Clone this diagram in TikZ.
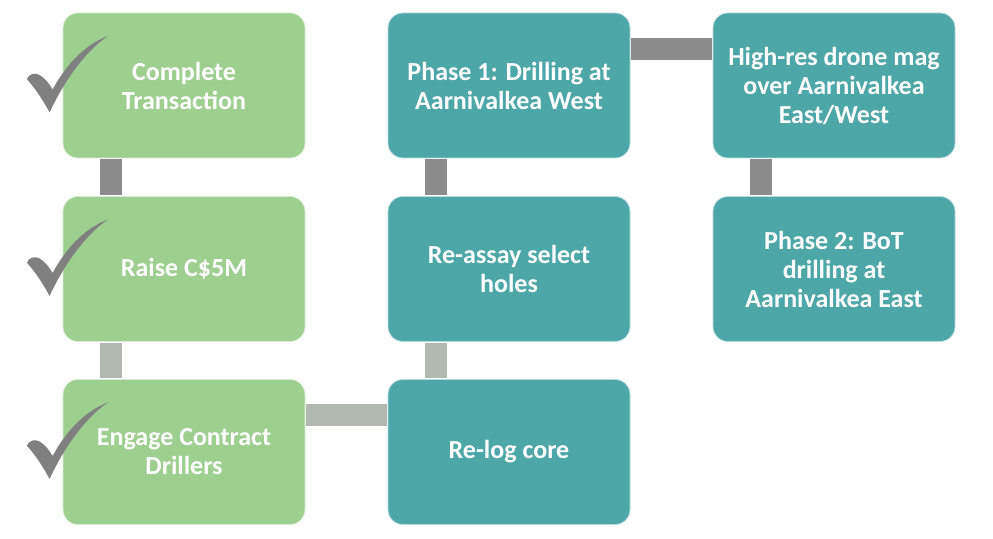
\documentclass[tikz,border=0pt]{standalone}
\usepackage{fontspec}
\setmainfont{Carlito}
\definecolor{vert}{HTML}{9DD08F}
\definecolor{sarcelle}{HTML}{4DA6A8}
\definecolor{barfonce}{HTML}{8C8C8C}
\definecolor{barclair}{HTML}{B0B8B0}
\definecolor{coche}{HTML}{808080}
\newcommand{\tick}[1]{%
\fill[coche, shift={(#1.west)}]
(-35.7,6.2) .. controls (-34,12) and (-27,13) .. (-23,10.5)
.. controls (-17,7) and (-13,1) .. (-10,-4)
.. controls (2,18) and (20,40) .. (45.3,49.5)
.. controls (28,38) and (5,12) .. (-13,-27)
.. controls (-20,-14) and (-28,-2) .. cycle;}

\begin{document}
\begin{tikzpicture}[x=1pt,y=1pt,
  box/.style={rounded corners=15pt, minimum width=242pt, minimum height=145pt,
    inner sep=4pt, align=center, text=white, draw=white!60!#1, line width=0.8pt,
    fill=#1, font=\fontsize{26}{29}\selectfont\bfseries},
  bar/.style={draw=#1, line width=22pt, shorten <=1pt, shorten >=1pt}]
\useasboundingbox (0,0) rectangle (993,538);

% etapes terminees
\node[box=vert] (ct) at (184,452.5) {Complete\\Transaction};
\node[box=vert] (rm) at (184,269) {Raise C\$5M};
\node[box=vert] (ed) at (184,86) {Engage Contract\\Drillers};

% etapes a venir
\node[box=sarcelle] (rl) at (509,86) {Re-log core};
\node[box=sarcelle] (ra) at (509,269) {Re-assay select\\holes};
\node[box=sarcelle] (pa) at (509,452.5) {Phase 1: Drilling at\\Aarnivalkea West};
\node[box=sarcelle] (hd) at (834,452.5) {High-res drone mag\\over Aarnivalkea\\East/West};
\node[box=sarcelle] (pb) at (834,269) {Phase 2: BoT\\drilling at\\Aarnivalkea East};

% liaisons
\draw[bar=barfonce] ([xshift=-73pt]ct.south) -- ([xshift=-73pt]rm.north);
\draw[bar=barclair] ([xshift=-73pt]rm.south) -- ([xshift=-73pt]ed.north);
\draw[bar=barclair] ([yshift=37pt]ed.east) -- ([yshift=37pt]rl.west);
\draw[bar=barclair] ([xshift=-73pt]rl.north) -- ([xshift=-73pt]ra.south);
\draw[bar=barfonce] ([xshift=-73pt]ra.north) -- ([xshift=-73pt]pa.south);
\draw[bar=barfonce] ([yshift=36.5pt]pa.east) -- ([yshift=36.5pt]hd.west);
\draw[bar=barfonce] ([xshift=-73pt]hd.south) -- ([xshift=-73pt]pb.north);

% coches
\tick{ct}
\tick{rm}
\tick{ed}
\end{tikzpicture}
\end{document}
